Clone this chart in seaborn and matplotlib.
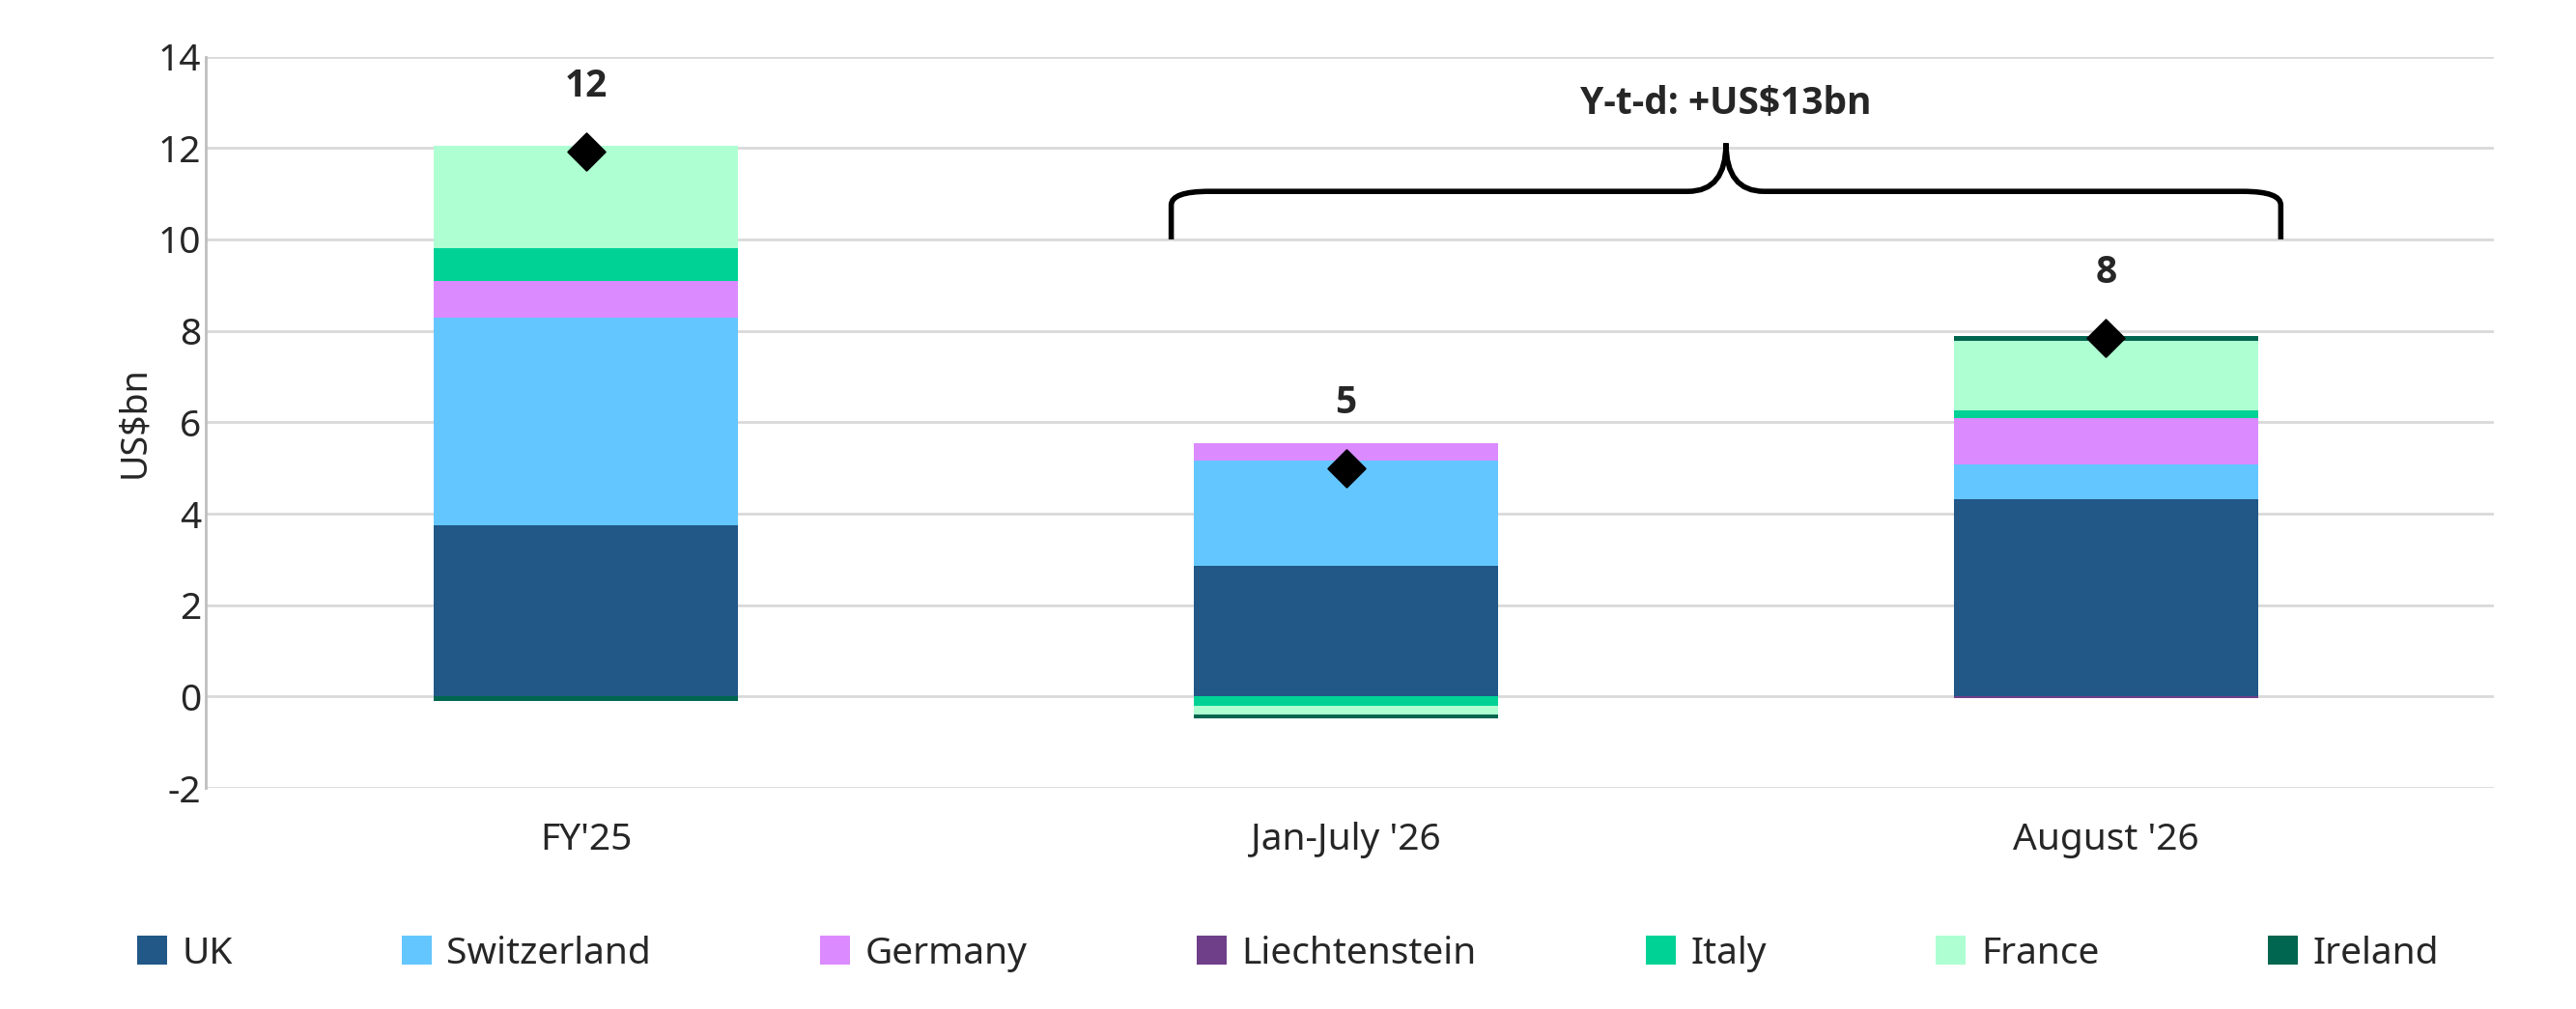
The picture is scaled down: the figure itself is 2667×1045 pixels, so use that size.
import numpy as np
import pandas as pd
import matplotlib
matplotlib.use("Agg")
import matplotlib.pyplot as plt
import seaborn as sns
from matplotlib.path import Path
from matplotlib.patches import PathPatch

categories = ["FY'25", "Jan-July '26", "August '26"]
series_names = ["UK", "Switzerland", "Germany", "Liechtenstein", "Italy", "France", "Ireland"]
uk = [3.75, 2.85, 4.32]
switzerland = [4.53, 2.32, 0.76]
germany = [0.82, 0.38, 1.02]
liechtenstein = [0.0, 0.0, -0.04]
italy = [0.70, -0.20, 0.15]
france = [2.25, -0.20, 1.53]
ireland = [-0.10, -0.07, 0.10]
totals = [11.93, 5.0, 7.85]
total_labels = ["12", "5", "8"]
colors = ["#215887", "#64C6FF", "#DB8BFF", "#6F3F8A", "#00D296", "#AEFFD2", "#00664F"]

sns.set_theme(style="whitegrid")
plt.rcParams['font.family'] = ['Noto Sans', 'DejaVu Sans']
plt.rcParams['axes.unicode_minus'] = False
BOLD = ['Open Sans', 'DejaVu Sans']

fig = plt.figure(figsize=(26.67, 10.45), dpi=100)
ax = fig.add_axes([0.08, 0.219, 0.888, 0.725])
x = np.arange(len(categories))
pos = np.zeros(3); neg = np.zeros(3)
handles = []
for name, vals, c in zip(series_names, [uk, switzerland, germany, liechtenstein, italy, france, ireland], colors):
    v = np.array(vals)
    bottom = np.where(v >= 0, pos, neg)
    h = ax.bar(x, v, 0.4, bottom=bottom, color=c, label=name, linewidth=0)
    handles.append(h)
    pos = pos + np.where(v >= 0, v, 0)
    neg = neg + np.where(v < 0, v, 0)

df = pd.DataFrame({"x": x, "total": totals})
sns.scatterplot(data=df, x="x", y="total", marker="D", color="black", edgecolor="black",
                s=380, ax=ax, zorder=5, legend=False)
for xi, t, lab in zip(x, totals, total_labels):
    ax.text(xi, t + 1.0, lab, ha="center", va="bottom", fontsize=28, fontweight="bold", family=BOLD)

# bracket
x0, x1, xm = 0.77, 2.23, 1.5
yb, yh, yp = 10.0, 11.05, 12.1
r = 0.05
verts = [(x0, yb), (x0, yh - 0.3), (x0, yh), (x0 + r, yh), (xm - r, yh), (xm, yh), (xm, yp),
         (xm, yh), (xm + r, yh), (x1 - r, yh), (x1, yh), (x1, yh - 0.3), (x1, yb)]
codes = [Path.MOVETO, Path.LINETO, Path.CURVE3, Path.CURVE3, Path.LINETO, Path.CURVE3, Path.CURVE3,
         Path.CURVE3, Path.CURVE3, Path.LINETO, Path.CURVE3, Path.CURVE3, Path.LINETO]
ax.add_patch(PathPatch(Path(verts, codes), fill=False, lw=4, color="black", clip_on=False))
ax.text(xm, 12.55, "Y-t-d: +US$13bn", ha="center", va="bottom", fontsize=28, fontweight="bold", family=BOLD)

ax.set_xlim(-0.50, 2.51)
ax.set_ylim(-2, 14)
ax.set_yticks(range(-2, 15, 2))
ax.set_xticks(x)
ax.set_xticklabels(categories)
ax.tick_params(axis="both", labelsize=28, length=0)
ax.tick_params(axis="x", pad=25)
ax.set_ylabel("US$bn", fontsize=27)
ax.set_xlabel("")
ax.grid(axis="x", visible=False)
ax.grid(axis="y", color="#d9d9d9", lw=2)
for s in ["top", "right"]:
    ax.spines[s].set_visible(False)
ax.spines["bottom"].set_visible(False)
ax.spines["left"].set_color("#bfbfbf")
ax.spines["left"].set_linewidth(2)

fig.legend(handles=handles, labels=series_names, loc="center", bbox_to_anchor=(0.5, 0.055), ncol=7,
           frameon=False, fontsize=28, handlelength=0.8, handleheight=0.8, columnspacing=4.5, handletextpad=0.4)
fig.savefig("out.png", dpi=100, facecolor="white")
